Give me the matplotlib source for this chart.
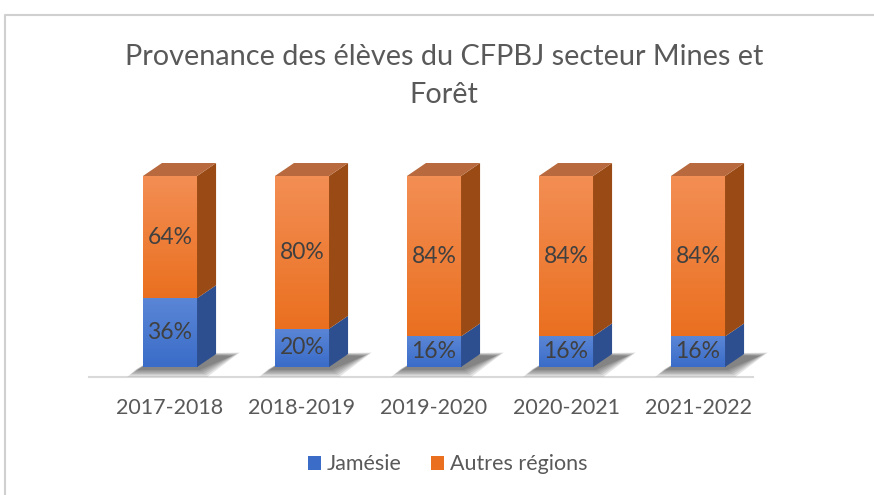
import numpy as np
import matplotlib.pyplot as plt
from matplotlib.patches import Polygon, Rectangle
from matplotlib.colors import LinearSegmentedColormap

plt.rcParams['font.family'] = ['Lato', 'DejaVu Sans']

# données
annees = ['2017-2018', '2018-2019', '2019-2020', '2020-2021', '2021-2022']
jamesie = [0.36, 0.20, 0.16, 0.16, 0.16]
autres = [0.64, 0.80, 0.84, 0.84, 0.84]
series = ['Jamésie', 'Autres régions']

# couleurs (face avant: haut, bas ; côté ; dessus)
blue = dict(top='#5b86d6', bot='#3a6cc8', side='#2d4f8f', lid='#3d64a8')
orange = dict(top='#f38e54', bot='#ea7020', side='#9a4a14', lid='#b86a3e')
txt = '#595959'

W, H = 874, 495
fig = plt.figure(figsize=(W / 100, H / 100), dpi=100)

# cadre du graphique
frame = fig.add_axes([0, 0, 1, 1])
frame.set_xlim(0, W)
frame.set_ylim(H, 0)
frame.axis('off')
frame.plot([4.5, 4.5, W], [H, 14.5, 14.5], color='#d0d0d0', lw=1.5)

ax = fig.add_axes([104 / W, 128 / H, 660 / W, 191 / H])
ax.set_xlim(-0.5, len(annees) - 0.5)
ax.set_ylim(0, 1)
ax.axis('off')

bw = 0.41
dx, dy = 0.144, 0.068


def grad_face(x0, x1, y0, y1, c):
    cmap = LinearSegmentedColormap.from_list('g', [c['bot'], c['top']])
    g = np.linspace(0, 1, 50).reshape(-1, 1)
    im = ax.imshow(g, cmap=cmap, extent=[x0, x1, y0, y1], origin='lower',
                   aspect='auto', zorder=3)
    r = Rectangle((x0, y0), x1 - x0, y1 - y0, transform=ax.transData,
                  facecolor='none', edgecolor='none')
    ax.add_patch(r)
    im.set_clip_path(r)
    im.set_clip_on(True)


# ombre + sol
ax.plot([-0.61, 4.42], [-0.052, -0.052], color='#d9d9d9', lw=1.5,
        clip_on=False, zorder=1)
for i in range(len(annees)):
    x0 = i - bw / 2
    x1 = i + bw / 2
    for k in range(6):
        s = 0.012 * k
        pts = [(x0 - 0.06 - s, -0.015 - s * 0.6), (x1 + 0.02 + s, -0.015 - s * 0.6),
               (x1 + dx + 0.12 + s, dy - 0.01 + s * 0.3), (x0 + dx, dy)]
        ax.add_patch(Polygon(pts, closed=True, facecolor='#000000',
                             alpha=0.1, edgecolor='none', clip_on=False, zorder=2))

# barres 3D empilées
for i in range(len(annees)):
    x0 = i - bw / 2
    x1 = i + bw / 2
    base = 0
    for val, c in [(jamesie[i], blue), (autres[i], orange)]:
        y0, y1 = base, base + val
        grad_face(x0, x1, y0, y1, c)
        side = [(x1, y0), (x1 + dx, y0 + dy), (x1 + dx, y1 + dy), (x1, y1)]
        ax.add_patch(Polygon(side, closed=True, facecolor=c['side'],
                             edgecolor='none', clip_on=False, zorder=3))
        ax.text(i, (y0 + y1) / 2, f'{round(val * 100)}%', ha='center',
                va='center', fontsize=16.5, color='#404040', zorder=5)
        base = y1
    lid = [(x0, base), (x1, base), (x1 + dx, base + dy), (x0 + dx, base + dy)]
    ax.add_patch(Polygon(lid, closed=True, facecolor=orange['lid'],
                         edgecolor='none', clip_on=False, zorder=3))
    ax.text(i, -0.215, annees[i], ha='center', va='center', fontsize=15.5,
            color=txt, clip_on=False)

fig.text(0.508, 0.885, 'Provenance des élèves du CFPBJ secteur Mines et',
         ha='center', va='center', fontsize=20.8, color=txt)
fig.text(0.508, 0.808, 'Forêt', ha='center', va='center', fontsize=20.8,
         color=txt)

# légende
h = [Rectangle((0, 0), 1, 1, facecolor=blue['bot']),
     Rectangle((0, 0), 1, 1, facecolor=orange['bot'])]
fig.legend(h, series, loc='center', bbox_to_anchor=(0.512, 0.062), ncol=2,
           frameon=False, fontsize=15.5, handlelength=0.6, handleheight=0.6,
           handletextpad=0.25, columnspacing=1.4, labelcolor=txt)

fig.savefig('out.png', dpi=100)
